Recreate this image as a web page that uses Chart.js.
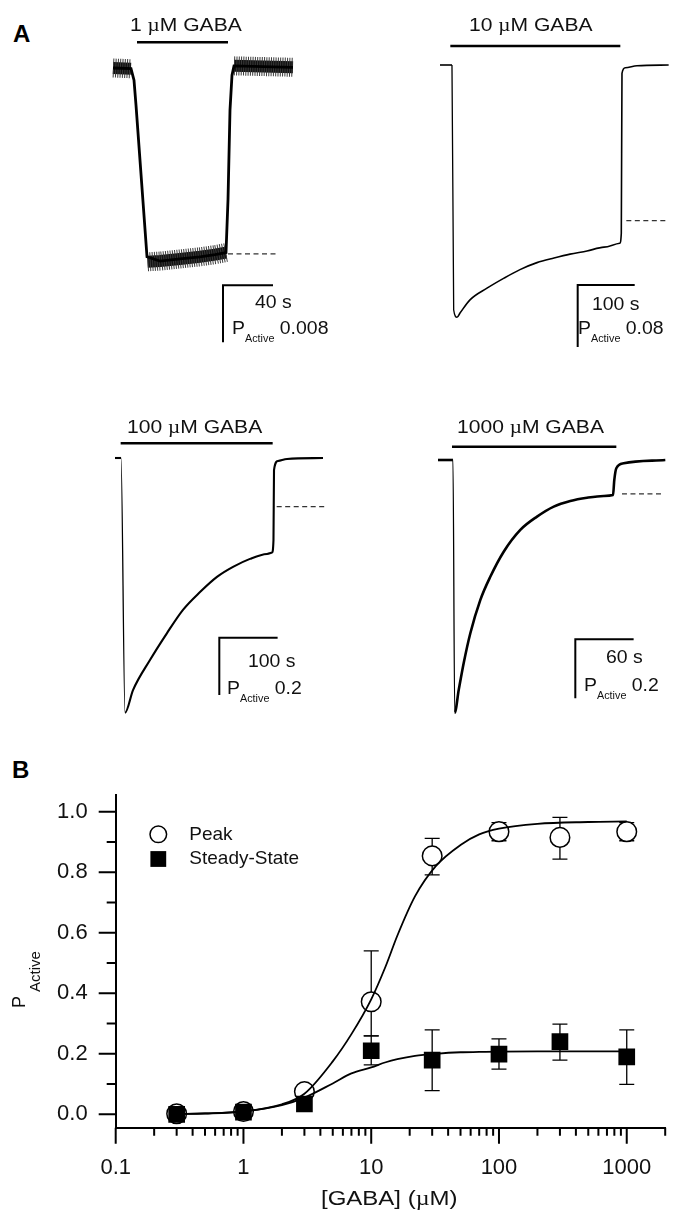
<!DOCTYPE html>
<html>
<head>
<meta charset="utf-8">
<title>GABA responses and dose-response</title>
<script src="https://cdn.jsdelivr.net/npm/chart.js@4.4.1/dist/chart.umd.min.js"></script>
<style>
  html, body { margin: 0; padding: 0; background: #fff; }
  #fig { position: relative; width: 677px; height: 1212px; overflow: hidden;
         font-family: "Liberation Sans", Arial, sans-serif; color: #111; }
  canvas { position: absolute; }
  .txt { position: absolute; white-space: nowrap; line-height: 1; transform-origin: 0 0; }
  .letter { font-weight: bold; font-size: 24px; color: #000; }
  .drug { font-size: 18.5px; transform: scaleX(1.14); }
  .scale { font-size: 18px; transform: scaleX(1.08); }
  .scale sub { font-size: 10px; vertical-align: -8px; line-height: 0; }
  .mu { font-family: "Liberation Serif", "DejaVu Serif", serif; }
  #ytitle { font-size: 18px; transform: rotate(-90deg); }
  #ytitle sub { font-size: 15px; vertical-align: -15px; line-height: 0; margin-left: 4px; }
  #xtitle { font-size: 20px; transform: scaleX(1.2); }
</style>
</head>
<body>
<div id="fig">
  <div class="txt letter" style="left:13px;top:21.5px">A</div>
  <div class="txt letter" style="left:12px;top:758px">B</div>
  <canvas id="trace1"></canvas>
  <canvas id="trace2"></canvas>
  <canvas id="trace3"></canvas>
  <canvas id="trace4"></canvas>
  <canvas id="doseChart" width="677" height="442" style="left:0;top:770px"></canvas>
  <div class="txt" id="ytitle" style="left:9.6px;top:1007.5px">P<sub>Active</sub></div>
  <div class="txt" id="xtitle" style="left:321px;top:1188px">[GABA] (<span class="mu">&micro;</span>M)</div>
</div>
<script>
// ---------- Panel A: example currents (time in s, P_Active, downward = more active) ----------
const drugConc = ['1', '10', '100', '1000'];          // µM GABA
const drugOn = [19.2, 18.1, 9.7, 14.4];
const drugOff = [92, 316.3, 270.4, 183.5];
const drugBarP = [-0.0036, -0.0245, -0.0513, -0.045];
const ssLevelFrom = [92, 326.8, 277.3, 189.3];
const ssLevelTo = [131.2, 398.2, 360.2, 230.5];
const ssLevelP = [0.0261, 0.2009, 0.170, 0.115];
const scaleBarSec = [40, 100, 100, 60];
const scaleBarP = [0.008, 0.08, 0.2, 0.2];
const scaleBarT0 = [88, 241.5, 178.9, 141.3];
const scaleBarP0 = [0.0305, 0.2838, 0.627, 0.608];

const trace1T = [0, 14.4, 16.8, 18.4, 27.2, 37.6, 53.6, 69.6, 81.6, 90.4, 92.0, 93.6, 95.2, 96.8, 144];
const trace1P = [0, 0.0001, 0.0017, 0.0052, 0.0265, 0.0271, 0.0268, 0.0265, 0.0262, 0.0259, 0.0185, 0.0059, 0.0010, -0.0003, -0.0001];
// noisy stretches of the 1 µM record (drawn as a thick band)
const trace1NoiseT = [0, 14.4, null, 27.6, 37.6, 53.6, 69.6, 81.6, 90.4, null, 96.8, 144];
const trace1NoiseP = [0, 0.0001, null, 0.0272, 0.0271, 0.0268, 0.0265, 0.0262, 0.0259, null, -0.0003, -0.0001];

const trace2T = [0, 21.0, 24.0, 29.8, 35.1, 52.6, 82.4, 112.3, 140.3, 170.1, 200.0, 228.1, 257.8, 287.7, 315.2, 318.0, 319.2, 325.0, 345.5, 401.1];
const trace2P = [0, 0, 0.316, 0.3255, 0.320, 0.303, 0.288, 0.275, 0.264, 0.255, 0.249, 0.244, 0.240, 0.235, 0.230, 0.217, 0.0107, 0.0035, 0.0009, 0];

const trace3T = [0, 10.3, 17.2, 30.9, 60.0, 89.2, 116.6, 145.8, 174.9, 202.4, 231.5, 260.7, 269.3, 271.8, 272.7, 279.5, 295.0, 356.7];
const trace3P = [0, 0, 0.889, 0.810, 0.705, 0.611, 0.530, 0.468, 0.415, 0.380, 0.352, 0.335, 0.330, 0.286, 0.042, 0.0105, 0.0035, 0];

const trace4T = [0, 15.4, 17.2, 21.3, 26.4, 33.2, 43.5, 53.8, 67.6, 84.7, 101.9, 119.1, 136.1, 153.3, 170.5, 180.1, 181.4, 183.5, 191.1, 233.9];
const trace4P = [0, 0, 0.857, 0.780, 0.689, 0.588, 0.475, 0.396, 0.311, 0.237, 0.192, 0.158, 0.139, 0.128, 0.122, 0.119, 0.068, 0.028, 0.011, 0];

// ---------- Panel B: concentration-response ----------
const concentrations = [0.3, 1, 3, 10, 30, 100, 300, 1000];
const peakMean = [0.002, 0.009, 0.075, 0.372, 0.854, 0.934, 0.915, 0.934];
const peakHi = [0.002, 0.009, 0.075, 0.540, 0.912, 0.964, 0.981, 0.964];
const peakLo = [0.002, 0.009, 0.075, 0.259, 0.791, 0.904, 0.843, 0.904];
const ssMean = [0.0, 0.007, 0.034, 0.210, 0.179, 0.199, 0.240, 0.190];
const ssHi = [0.0, 0.007, 0.034, 0.259, 0.279, 0.249, 0.298, 0.279];
const ssLo = [0.0, 0.007, 0.034, 0.163, 0.078, 0.149, 0.179, 0.099];

const fitConc = [0.3, 0.5, 1, 2, 3, 5, 7, 10, 13, 16, 22, 32, 50, 70, 100, 200, 500, 1000];
const peakFit = [0.001, 0.003, 0.01, 0.033, 0.068, 0.175, 0.265, 0.38, 0.49, 0.59, 0.72, 0.82, 0.89, 0.925, 0.944, 0.96, 0.966, 0.968];
const ssFit = [0.001, 0.0026, 0.0093, 0.030, 0.055, 0.102, 0.135, 0.155, 0.172, 0.182, 0.193, 0.200, 0.205, 0.206, 0.207, 0.208, 0.208, 0.208];

const yMajor = [0, 0.2, 0.4, 0.6, 0.8, 1.0];
const yMinor = [0.1, 0.3, 0.5, 0.7, 0.9];
const xMajor = [0.1, 1, 10, 100, 1000];
const xTickText = ['0.1', '1', '10', '100', '1000'];
const xMinor = [0.2, 0.3, 0.4, 0.5, 0.6, 0.7, 0.8, 0.9, 2, 3, 4, 5, 6, 7, 8, 9,
  20, 30, 40, 50, 60, 70, 80, 90, 200, 300, 400, 500, 600, 700, 800, 900, 2000];

const pts = (xs, ys) => xs.map((x, k) => ({ x: x, y: ys[k] }));

Chart.defaults.font.family = '"Liberation Sans", Arial, sans-serif';
Chart.defaults.color = '#111';

// page placement of each trace: canvas box, pixel of t=0 / P=0 and units per pixel
const traceLayout = [
  { left: 100, top: 30, width: 240, height: 330, x0: 113, y0: 68, sPerPx: 0.8, pPerPx: 0.008 / 57,
    drugText: [130, 15.9], timeText: [255, 292.6], pText: [232, 318.6], width0: 2.8, thin: [] },
  { left: 430, top: 30, width: 247, height: 330, x0: 440, y0: 65, sPerPx: 1.754, pPerPx: 0.08 / 62,
    drugText: [468.5, 15.9], timeText: [592, 295.3], pText: [578, 319.3], width0: 1.6, thin: [1, 2] },
  { left: 100, top: 400, width: 240, height: 330, x0: 115, y0: 458, sPerPx: 1.715, pPerPx: 0.00349,
    drugText: [126.5, 417.6], timeText: [247.5, 651.6], pText: [226.5, 679.3], width0: 2.1, thin: [1] },
  { left: 430, top: 400, width: 247, height: 330, x0: 438, y0: 460, sPerPx: 1.029, pPerPx: 0.00339,
    drugText: [457, 417.6], timeText: [606, 647.6], pText: [584, 675.9], width0: 2.6, thin: [1] }
];
const traceT = [trace1T, trace2T, trace3T, trace4T];
const traceP = [trace1P, trace2P, trace3P, trace4P];

const fig = document.getElementById('fig');
function addText(cls, pos, html) {
  const d = document.createElement('div');
  d.className = 'txt ' + cls;
  d.style.left = pos[0] + 'px';
  d.style.top = pos[1] + 'px';
  d.innerHTML = html;
  fig.appendChild(d);
}

traceLayout.forEach((b, i) => {
  const cv = document.getElementById('trace' + (i + 1));
  cv.width = b.width;
  cv.height = b.height;
  cv.style.left = b.left + 'px';
  cv.style.top = b.top + 'px';

  const line = { showLine: true, pointRadius: 0, borderColor: '#000', clip: false };
  const datasets = [
    Object.assign({}, line, {
      label: drugConc[i] + ' µM GABA',
      data: pts(traceT[i], traceP[i]),
      borderWidth: b.width0,
      cubicInterpolationMode: i === 0 ? 'default' : 'monotone',
      segment: { borderWidth: ctx => b.thin.includes(ctx.p0DataIndex) ? 1.3 : b.width0 }
    }),
    Object.assign({}, line, {
      label: 'application',
      data: pts([drugOn[i], drugOff[i]], [drugBarP[i], drugBarP[i]]),
      borderWidth: 2.5
    }),
    Object.assign({}, line, {
      label: 'level',
      data: pts([ssLevelFrom[i], ssLevelTo[i]], [ssLevelP[i], ssLevelP[i]]),
      borderWidth: 1.3, borderColor: '#333', borderDash: [5, 3.5]
    }),
    Object.assign({}, line, {
      label: 'scale bar',
      data: pts([scaleBarT0[i] + scaleBarSec[i], scaleBarT0[i], scaleBarT0[i]],
                [scaleBarP0[i], scaleBarP0[i], scaleBarP0[i] + scaleBarP[i]]),
      borderWidth: 2, borderJoinStyle: 'miter'
    })
  ];
  if (i === 0) {
    // noise of the 1 µM record: solid core inside a fine-striped fuzzy fringe
    datasets.push(Object.assign({}, line, {
      label: 'noise fringe', data: pts(trace1NoiseT, trace1NoiseP),
      borderWidth: 19, borderColor: '#3a3a3a', borderDash: [1, 1.3], spanGaps: false
    }));
    datasets.push(Object.assign({}, line, {
      label: 'noise core', data: pts(trace1NoiseT, trace1NoiseP),
      borderWidth: 12, borderColor: '#111', spanGaps: false
    }));
  }

  new Chart(cv, {
    type: 'scatter',
    data: { datasets: datasets },
    options: {
      responsive: false, animation: false, events: [],
      layout: { padding: 0 },
      plugins: { legend: { display: false }, tooltip: { enabled: false } },
      scales: {
        x: { type: 'linear', display: false,
             min: (b.left - b.x0) * b.sPerPx, max: (b.left + b.width - b.x0) * b.sPerPx },
        y: { type: 'linear', display: false, reverse: true,
             min: (b.top - b.y0) * b.pPerPx, max: (b.top + b.height - b.y0) * b.pPerPx }
      }
    }
  });

  addText('drug', b.drugText, drugConc[i] + ' <span class="mu">&micro;</span>M GABA');
  addText('scale', b.timeText, scaleBarSec[i] + ' s');
  addText('scale', b.pText, 'P<sub>Active</sub> ' + scaleBarP[i]);
});

// ---------- Panel B plugins ----------
const errorBars = {
  id: 'errorBars',
  beforeDatasetsDraw(chart) {
    const { ctx, scales: { x, y } } = chart;
    ctx.save();
    ctx.strokeStyle = '#000';
    ctx.lineWidth = 1.3;
    [[peakHi, peakLo], [ssHi, ssLo]].forEach(([hi, lo]) => {
      concentrations.forEach((c, k) => {
        if (hi[k] === lo[k]) return;
        const px = x.getPixelForValue(c);
        const top = y.getPixelForValue(hi[k]);
        const bot = y.getPixelForValue(lo[k]);
        ctx.beginPath();
        ctx.moveTo(px, top); ctx.lineTo(px, bot);
        ctx.moveTo(px - 7.5, top); ctx.lineTo(px + 7.5, top);
        ctx.moveTo(px - 7.5, bot); ctx.lineTo(px + 7.5, bot);
        ctx.stroke();
      });
    });
    ctx.restore();
  }
};

const tickMarks = {
  id: 'tickMarks',
  afterDraw(chart) {
    const { ctx, scales: { x, y } } = chart;
    ctx.save();
    ctx.strokeStyle = '#000';
    ctx.lineWidth = 2;
    ctx.beginPath();
    y.ticks.forEach(t => {
      const py = y.getPixelForValue(t.value);
      const len = yMajor.includes(t.value) ? 17 : 9;
      ctx.moveTo(y.right - len, py);
      ctx.lineTo(y.right, py);
    });
    x.ticks.forEach(t => {
      const px = x.getPixelForValue(t.value);
      const len = xMajor.includes(t.value) ? 16 : 8;
      ctx.moveTo(px, x.top);
      ctx.lineTo(px, x.top + len);
    });
    ctx.stroke();
    ctx.restore();
  }
};

const markerKey = {
  id: 'markerKey',
  afterDraw(chart) {
    const { ctx, chartArea: a } = chart;
    const names = chart.data.datasets.filter(d => d.inKey).map(d => d.label);
    const kx = a.left + 42.6, ky = a.top + 39.3;
    ctx.save();
    ctx.lineWidth = 1.5;
    ctx.strokeStyle = '#000';
    ctx.fillStyle = '#fff';
    ctx.beginPath();
    ctx.arc(kx, ky, 8.3, 0, Math.PI * 2);
    ctx.fill();
    ctx.stroke();
    ctx.fillStyle = '#000';
    ctx.fillRect(kx - 7.9, ky + 24.7 - 7.9, 15.8, 15.8);
    ctx.font = '19px "Liberation Sans", Arial, sans-serif';
    ctx.fillStyle = '#111';
    ctx.textBaseline = 'middle';
    ctx.fillText(names[0], kx + 31, ky);
    ctx.fillText(names[1], kx + 31, ky + 24.4);
    ctx.restore();
  }
};

// keep the plot frame where the reference has it: no extra label padding
const noPad = s => { s.paddingLeft = 0; s.paddingRight = 0; s.paddingTop = 0; s.paddingBottom = 0; };
const byValue = (a, b) => a - b;

new Chart(document.getElementById('doseChart'), {
  type: 'scatter',
  data: {
    datasets: [
      { label: 'Peak fit', data: pts(fitConc, peakFit), showLine: true, pointRadius: 0,
        borderColor: '#000', borderWidth: 1.8, cubicInterpolationMode: 'monotone', order: 1 },
      { label: 'Steady-State fit', data: pts(fitConc, ssFit), showLine: true, pointRadius: 0,
        borderColor: '#000', borderWidth: 1.8, cubicInterpolationMode: 'monotone', order: 1 },
      { label: 'Peak', inKey: true, data: pts(concentrations, peakMean), pointStyle: 'circle',
        pointRadius: 9.8, pointBorderWidth: 1.5, pointBackgroundColor: '#fff',
        pointBorderColor: '#000', order: 3 },
      { label: 'Steady-State', inKey: true, data: pts(concentrations, ssMean), pointStyle: 'rect',
        pointRadius: 11.8, pointBorderWidth: 0, pointBackgroundColor: '#000',
        pointBorderColor: '#000', order: 2 }
    ]
  },
  options: {
    responsive: false, animation: false, events: [],
    layout: { padding: { top: 25, right: 9, left: 0, bottom: 0 } },
    plugins: { legend: { display: false }, tooltip: { enabled: false } },
    scales: {
      x: {
        type: 'logarithmic', min: 0.1, max: 2000,
        afterBuildTicks: s => { s.ticks = xMajor.concat(xMinor).sort(byValue).map(v => ({ value: v })); },
        afterFit: s => { s.height = 84.3; noPad(s); },
        grid: { display: false, drawTicks: false },
        border: { display: true, color: '#000', width: 2 },
        ticks: { autoSkip: false, maxRotation: 0, padding: 27, color: '#111', font: { size: 22 },
                 callback: v => { const k = xMajor.indexOf(v); return k < 0 ? '' : xTickText[k]; } }
      },
      y: {
        type: 'linear', min: -0.0443, max: 1.0552,
        afterBuildTicks: s => { s.ticks = yMajor.concat(yMinor).sort(byValue).map(v => ({ value: v })); },
        afterFit: s => { s.width = 115.7; noPad(s); },
        grid: { display: false, drawTicks: false },
        border: { display: true, color: '#000', width: 2 },
        ticks: { autoSkip: false, padding: 28, color: '#111', font: { size: 22 },
                 callback: v => yMajor.includes(v) ? v.toFixed(1) : '' }
      }
    }
  },
  plugins: [errorBars, tickMarks, markerKey]
});
</script>
</body>
</html>
